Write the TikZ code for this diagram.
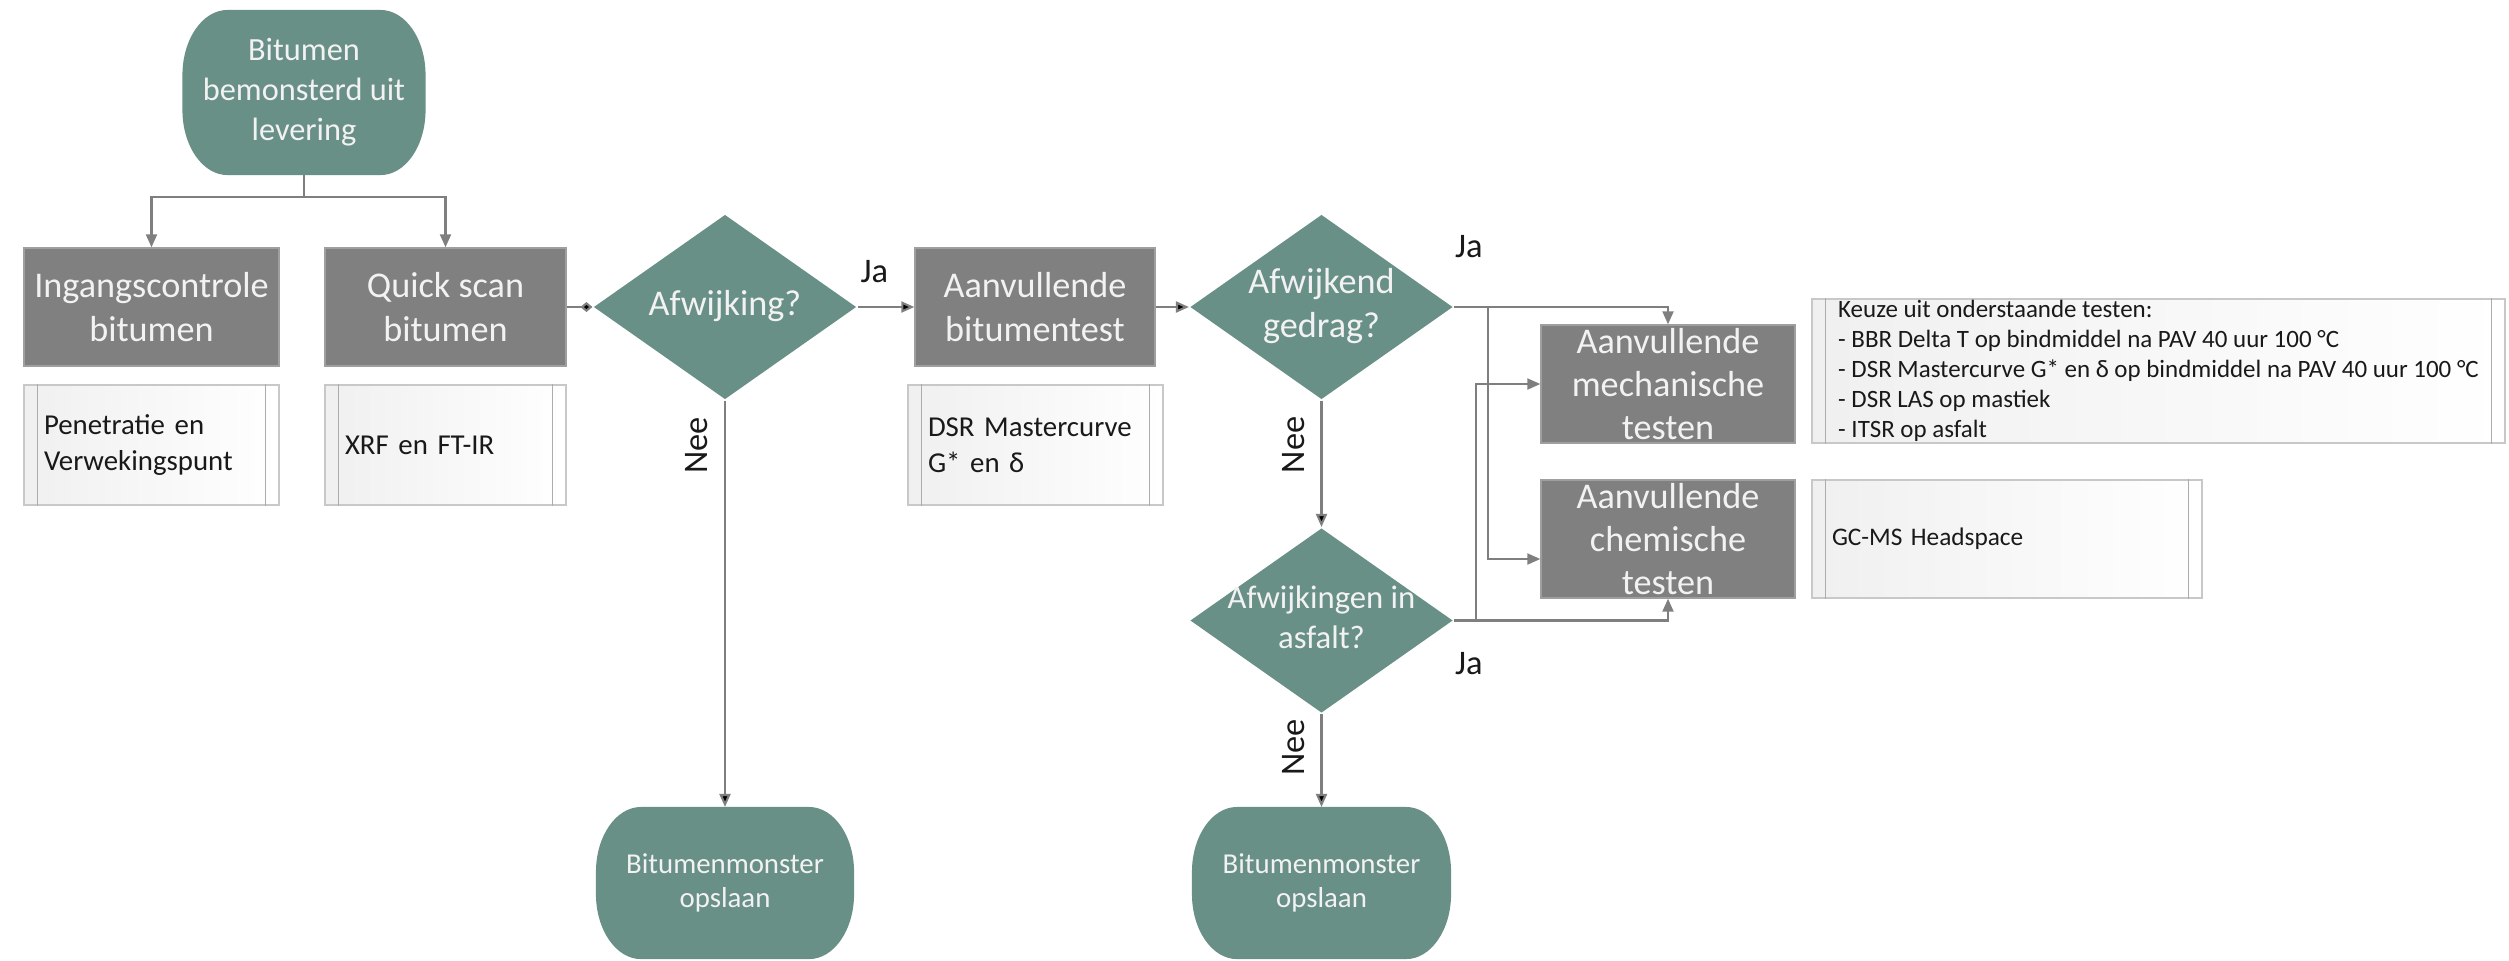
\documentclass[tikz,border=0pt]{standalone}
\usepackage{fontspec}
\setmainfont{Carlito}
\usetikzlibrary{arrows.meta,shapes.geometric,positioning,backgrounds}

\definecolor{flowteal}{RGB}{105,144,134}
\definecolor{flowgray}{RGB}{128,128,128}
\definecolor{linegray}{RGB}{127,127,127}
\definecolor{framegray}{RGB}{200,200,200}
\definecolor{boxtext}{RGB}{242,242,242}

\newcommand{\dectext}[1]{\makebox[0pt]{\begin{tabular}{@{}c@{}}#1\end{tabular}}}

\begin{document}
\begin{tikzpicture}[>={Triangle[length=1.3mm,width=1.1mm]},line width=0.6pt,
  flow/.style={->,draw=linegray},
  start node/.style={rectangle,minimum width=2.41cm,minimum height=1.63cm,inner sep=0pt,align=center,text=boxtext,font=\fontsize{9.2}{11.4}\selectfont},
  stop node/.style={start node,minimum width=2.56cm,minimum height=1.5cm,font=\fontsize{8.2}{9.5}\selectfont},
  box node/.style={rectangle,fill=flowgray,draw=gray!75,line width=0.4pt,minimum width=2.55cm,minimum height=1.18cm,inner sep=0pt,align=center,text=boxtext,font=\fontsize{10.3}{12.3}\selectfont},
  choice node/.style={diamond,fill=flowteal,minimum width=2.63cm,minimum height=1.85cm,inner sep=0pt,text=boxtext,font=\fontsize{10.3}{12.5}\selectfont},
  test node/.style={rectangle,draw=framegray,left color=black!6,right color=white,text width=#1,inner xsep=0.2cm,inner ysep=0pt,minimum height=1.2cm,align=left,text=black!90,font=\fontsize{8.2}{10.3}\selectfont},
  label node/.style={inner sep=0pt,text=black!90,font=\fontsize{9.8}{11}\selectfont},
  nee node/.style={rotate=90,anchor=south,inner sep=0.16cm,text=black!90,font=\fontsize{9.8}{11}\selectfont}]

  \useasboundingbox (0,0) rectangle (25.09,-9.6);

  \node[start node] (start) at (3.04,-0.925) {Bitumen\\bemonsterd uit\\levering};
  \node[box node] (ing) at (1.515,-3.07) {Ingangscontrole\\bitumen};
  \node[box node,minimum width=2.41cm] (quick) at (4.455,-3.07) {Quick scan\\bitumen};
  \node[test node=2.15cm] (pen) at (1.515,-4.45) {Penetratie en\\Verwekingspunt};
  \node[test node=2.01cm] (xrf) at (4.455,-4.45) {XRF en FT-IR};

  \node[choice node] (afw1) at (7.25,-3.07) {\dectext{Afwijking?}};
  \node[box node,minimum width=2.40cm] (extra) at (10.35,-3.07) {Aanvullende\\bitumentest};
  \node[test node=2.15cm] (dsr) at (10.355,-4.45) {DSR Mastercurve\\G* en δ};

  \node[choice node] (afw2) at (13.215,-3.07) {\dectext{Afwijkend\\gedrag?}};
  \node[choice node,font=\fontsize{9.3}{11.4}\selectfont] (afw3) at (13.215,-6.205) {\dectext{Afwijkingen in\\asfalt?}};

  \node[box node,minimum width=2.54cm] (mech) at (16.68,-3.84) {Aanvullende\\mechanische\\testen};
  \node[box node,minimum width=2.54cm] (chem) at (16.68,-5.39) {Aanvullende\\chemische\\testen};
  \node[test node={},minimum width=6.93cm,minimum height=1.44cm,font=\fontsize{7.1}{8.5}\selectfont] (keuze) at (21.585,-3.71)
    {Keuze uit onderstaande testen:\\
     - BBR Delta T op bindmiddel na PAV 40 uur 100 °C\\
     - DSR Mastercurve G* en δ op bindmiddel na PAV 40 uur 100 °C\\
     - DSR LAS op mastiek\\
     - ITSR op asfalt};
  \node[test node=3.5cm,minimum height=1.18cm,font=\fontsize{7.2}{9}\selectfont] (gcms) at (20.07,-5.39) {GC-MS Headspace};

  \node[stop node] (store1) at (7.25,-8.83) {Bitumenmonster\\opslaan};
  \node[stop node,minimum width=2.57cm] (store2) at (13.215,-8.83) {Bitumenmonster\\opslaan};

  \begin{scope}[on background layer]
    \foreach \n in {start,store1,store2}
      \fill[flowteal] ([xshift=4.5mm]\n.north west) -- ([xshift=-4.5mm]\n.north east)
        arc[start angle=90,end angle=0,x radius=4.5mm,y radius=6.5mm]
        -- ([yshift=6.5mm]\n.south east)
        arc[start angle=0,end angle=-90,x radius=4.5mm,y radius=6.5mm]
        -- ([xshift=4.5mm]\n.south west)
        arc[start angle=270,end angle=180,x radius=4.5mm,y radius=6.5mm]
        -- ([yshift=-6.5mm]\n.north west)
        arc[start angle=180,end angle=90,x radius=4.5mm,y radius=6.5mm] -- cycle;
  \end{scope}

  \foreach \n in {pen,xrf,dsr,keuze,gcms}{
    \draw[draw=gray!65,line width=0.5pt] ([xshift=1.45mm]\n.north west) -- ([xshift=1.45mm]\n.south west);
    \draw[draw=gray!65,line width=0.5pt] ([xshift=-1.45mm]\n.north east) -- ([xshift=-1.45mm]\n.south east);
  }

  \coordinate (split) at (3.04,-1.97);
  \draw[draw=linegray] (start) -- (split);
  \draw[flow] (split) -| (ing);
  \draw[flow] (split) -| (quick);

  \path[draw=linegray] (quick) edge[-{Diamond[length=1.2mm,width=1mm]}] (afw1);
  \path[flow]
    (afw1) edge (extra)
    (extra) edge (afw2)
    (afw1) edge node[nee node,pos=0.11] (nee1) {Nee} (store1)
    (afw2) edge node[nee node,pos=0.35] (nee2) {Nee} (afw3)
    (afw3) edge node[nee node,pos=0.36] (nee3) {Nee} (store2);

  \draw[flow] (afw2.east) -| (mech.north);
  \coordinate (fork1) at (14.88,-3.07);
  \draw[flow] (fork1) |- ([yshift=-0.2cm]chem.west);
  \draw[flow] (afw3.east) -| (chem.south);
  \coordinate (fork2) at (14.76,-6.205);
  \draw[flow] (fork2) |- (mech.west);

  \node[label node,anchor=south west] (ja1) at ([xshift=0.02cm,yshift=0.23cm]afw1.east) {Ja};
  \node[label node,anchor=south west] (ja2) at ([yshift=0.48cm]afw2.east) {Ja};
  \node[label node,anchor=north west] (ja3) at ([yshift=-0.31cm]afw3.east) {Ja};

\end{tikzpicture}
\end{document}
